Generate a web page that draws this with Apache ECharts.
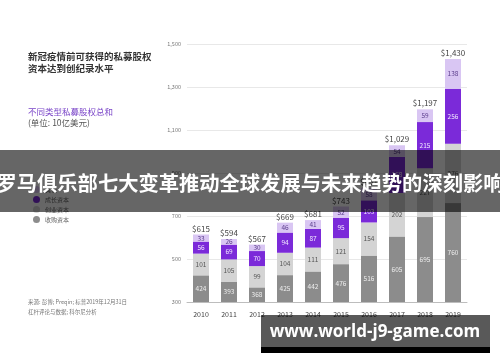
<!DOCTYPE html>
<html>
<head>
<meta charset="utf-8">
<script src="https://cdn.jsdelivr.net/npm/echarts@6/dist/echarts.min.js"></script>
<style>html,body{margin:0;padding:0;background:#fff}#c{width:500px;height:362px}</style>
</head>
<body>
<div id="c"></div>
<script>
var years = ['2010','2011','2012','2013','2014','2015','2016','2017','2018','2019'];
var buyout = [424, 393, 368, 425, 442, 476, 516, 605, 695, 760];
var venture = [101, 105, 99, 104, 111, 121, 154, 202, 227, 276];
var growth = [56, 69, 70, 94, 87, 95, 103, 168, 215, 256];
var other = [33, 26, 30, 46, 41, 52, 58, 54, 59, 138];
var totals = [615, 594, 567, 669, 681, 743, 831, 1029, 1197, 1430];
var yTicks = [300, 500, 700, 900, 1100, 1300, 1500];
var seriesNames = ['收购资本', '创业资本', '成长资本', '其他'];

var FONT = '"Noto Sans CJK SC", "Noto Sans", sans-serif';
function fmt(v){ return String(v).replace(/\B(?=(\d{3})+(?!\d))/g, ','); }

var chart = echarts.init(document.getElementById('c'), null, {renderer:'canvas'});
var segLabel = function(color){
  return {show:true, position:'inside', fontSize:6.5, color:color, fontFamily:FONT};
};
var option = {
  animation:false,
  textStyle:{fontFamily:FONT},
  grid:{left:187, right:33, top:44, bottom:60},
  legend:{
    data:[seriesNames[3], seriesNames[2], seriesNames[1], seriesNames[0]],
    orient:'vertical', left:28, top:181, icon:'circle',
    itemWidth:7, itemHeight:7, itemGap:3,
    textStyle:{fontSize:6, color:'#666', fontFamily:FONT}
  },
  xAxis:{
    type:'category', data:years,
    axisLine:{lineStyle:{color:'#bdbdbd'}}, axisTick:{show:false},
    axisLabel:{fontSize:7, color:'#444', margin:9}
  },
  yAxis:{
    type:'value', min:yTicks[0], max:yTicks[yTicks.length-1], interval:200,
    axisLine:{show:false}, axisTick:{show:false},
    splitLine:{lineStyle:{color:'#e8e8e8'}},
    axisLabel:{fontSize:5.5, color:'#777', margin:6, formatter:function(v){return fmt(v);}}
  },
  series:[
    {name:seriesNames[0], type:'bar', stack:'s', data:buyout, barWidth:16,
     itemStyle:{color:'#8c8c8c'}, label:segLabel('#eeeeee')},
    {name:seriesNames[1], type:'bar', stack:'s', data:venture, barWidth:16,
     itemStyle:{color:'#d4d4d4'}, label:segLabel('#555555')},
    {name:seriesNames[2], type:'bar', stack:'s', data:growth, barWidth:16,
     itemStyle:{color:'#7b2ad9'}, label:segLabel('#f2eaff')},
    {name:seriesNames[3], type:'bar', stack:'s', data:other, barWidth:16,
     itemStyle:{color:'#d9c6f3'}, label:segLabel('#5b3d8c')},
    {name:'total', type:'bar', stack:'s', data:totals.map(function(){return 0;}), barWidth:16,
     itemStyle:{color:'transparent'},
     label:{show:true, position:'top', distance:2, fontSize:8, color:'#444', fontFamily:FONT,
       formatter:function(p){return '$' + fmt(totals[p.dataIndex]);}}}
  ],
  graphic:[
    {type:'text', left:28, top:50, style:{text:'新冠疫情前可获得的私募股权\n资本达到创纪录水平', fontSize:9.5, fontWeight:'bold', fill:'#333', lineHeight:12.5, fontFamily:FONT}},
    {type:'text', left:28, top:108, style:{text:'不同类型私募股权总和', fontSize:8.5, fill:'#7a45c8', fontFamily:FONT}},
    {type:'text', left:28, top:119, style:{text:'(单位: 10亿美元)', fontSize:8.5, fill:'#555', fontFamily:FONT}},
    {type:'text', left:28, top:297, style:{text:'来源: 彭博; Preqin; 标普2019年12月31日\n杠杆评论与数据; 科尔尼分析', fontSize:5.5, fill:'#777', lineHeight:10, fontFamily:FONT}},
    {type:'rect', z:100, shape:{x:0, y:150, width:500, height:62}, style:{fill:'rgba(0,0,0,0.6)'}},
    {type:'text', z:101, x:250, y:183, style:{text:'罗马俱乐部七大变革推动全球发展与未来趋势的深刻影响', fontSize:20.3, fontWeight:'bold', fill:'#ffffff', align:'center', verticalAlign:'middle', fontFamily:FONT}},
    {type:'rect', z:100, shape:{x:261, y:315, width:229, height:32}, style:{fill:'rgba(0,0,0,0.65)'}},
    {type:'rect', z:100, shape:{x:261, y:347, width:229, height:6}, style:{fill:'#000'}},
    {type:'text', z:101, x:375, y:332, style:{text:'www.world-j9-game.com', fontSize:17, fontWeight:'bold', fill:'#ffffff', align:'center', verticalAlign:'middle', fontFamily:'"Open Sans", "DejaVu Sans", sans-serif'}}
  ]
};
chart.setOption(option);
</script>
</body>
</html>
